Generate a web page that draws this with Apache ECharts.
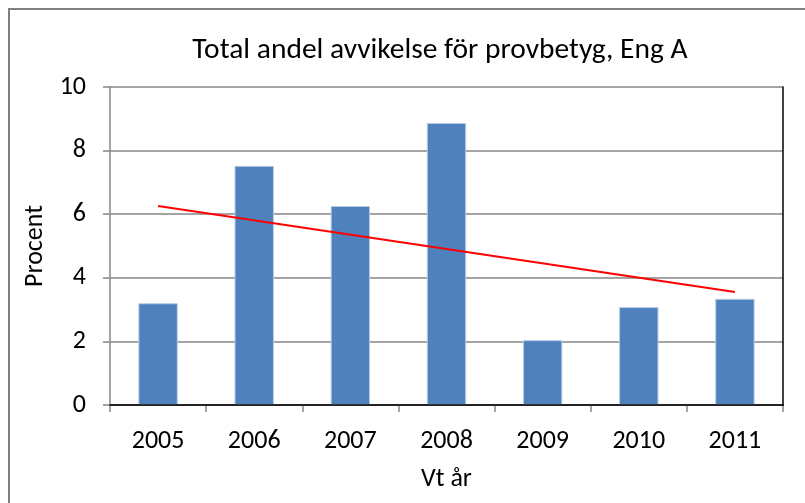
<!DOCTYPE html>
<html>
<head>
<meta charset="utf-8">
<script src="https://cdn.jsdelivr.net/npm/echarts@6/dist/echarts.min.js"></script>
<style>
  html, body { margin: 0; padding: 0; background: #fff; }
  #chart { width: 805px; height: 503px; }
</style>
</head>
<body>
<div id="chart"></div>
<script>
// Share of deviating test grades per spring term
const years = ['2005', '2006', '2007', '2008', '2009', '2010', '2011'];
const percent = [3.2, 7.52, 6.26, 8.87, 2.04, 3.08, 3.34];
// Linear trend endpoints (first and last year)
const trendStart = 6.26;
const trendEnd = 3.55;
const yTicks = { min: 0, max: 10, step: 2 };

const trend = years.map((_, i) =>
  i === 0 ? trendStart : (i === years.length - 1 ? trendEnd : null));

const FONT = 'Carlito, Lato, "Open Sans", sans-serif';
const GRAY = '#868686';

const chart = echarts.init(document.getElementById('chart'), null, { renderer: 'canvas' });
chart.setOption({
  backgroundColor: '#fff',
  animation: false,
  title: {
    text: 'Total andel avvikelse för provbetyg, Eng A',
    left: 435, top: 31, textAlign: 'center',
    textStyle: { fontFamily: FONT, fontSize: 29.5, fontWeight: 'normal', color: '#000' }
  },
  graphic: [{
    type: 'rect', silent: true, z: 100,
    shape: { x: 9, y: 9, width: 900, height: 600 },
    style: { fill: 'none', stroke: '#7f7f7f', lineWidth: 2 }
  }],
  grid: { left: 110, right: 22, top: 87, bottom: 98 },
  xAxis: [{
    type: 'category', data: years,
    name: 'Vt år', nameLocation: 'middle', nameGap: 61,
    nameTextStyle: { fontFamily: FONT, fontSize: 26, color: '#000' },
    axisLine: { lineStyle: { color: GRAY, width: 1.5 } },
    axisTick: { show: true, length: 7, lineStyle: { color: GRAY, width: 1.5 } },
    axisLabel: { fontFamily: FONT, fontSize: 26, color: '#000', margin: 23 }
  }, {
    type: 'category', data: years, position: 'top', z: 5,
    axisLine: { show: true, lineStyle: { color: '#000', width: 1.5 } },
    axisTick: { show: false }, axisLabel: { show: false }
  }],
  yAxis: [{
    type: 'value', min: yTicks.min, max: yTicks.max, interval: yTicks.step,
    name: 'Procent', nameLocation: 'middle', nameGap: 59, nameRotate: 90,
    nameTextStyle: { fontFamily: FONT, fontSize: 26, color: '#000' },
    axisLine: { show: true, lineStyle: { color: GRAY, width: 1.5 } },
    axisTick: { show: true, length: 7, lineStyle: { color: GRAY, width: 1.5 } },
    axisLabel: { fontFamily: FONT, fontSize: 26, color: '#000', margin: 24 },
    splitLine: { show: true, lineStyle: { color: GRAY, width: 1.5 } }
  }, {
    type: 'value', min: yTicks.min, max: yTicks.max, interval: yTicks.step, position: 'right', z: 5,
    axisLine: { show: true, lineStyle: { color: '#000', width: 1.5 } },
    axisTick: { show: false }, axisLabel: { show: false }, splitLine: { show: false }
  }],
  series: [{
    type: 'bar', data: percent, barWidth: '41%',
    itemStyle: { color: '#4F81BD', borderColor: '#B9CDE5', borderWidth: 1 },
    z: 2
  }, {
    type: 'line', data: trend, connectNulls: true, showSymbol: false, symbol: 'none',
    lineStyle: { color: '#FF0000', width: 2 }, z: 3
  }]
});
</script>
</body>
</html>
